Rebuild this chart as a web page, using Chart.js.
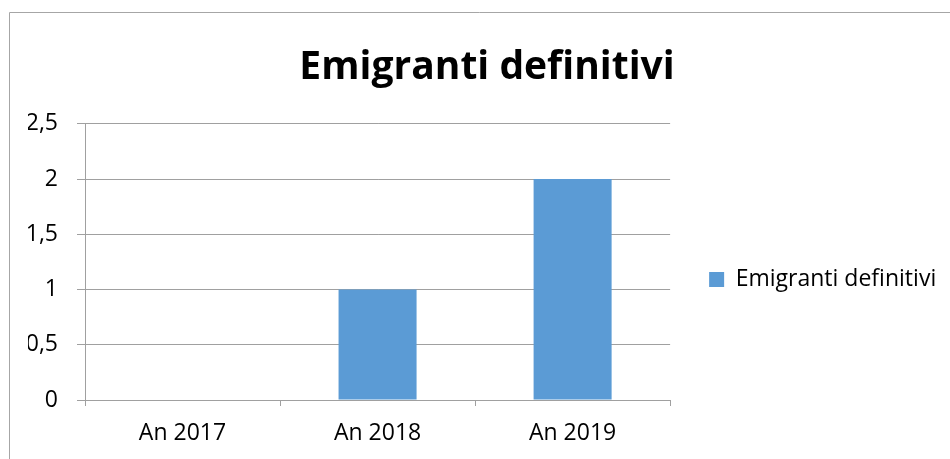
<!DOCTYPE html>
<html>
<head>
<meta charset="utf-8">
<script src="https://cdn.jsdelivr.net/npm/chart.js@4"></script>
<style>
  html, body { margin: 0; padding: 0; background: #ffffff; }
  #wrap { width: 950px; height: 459px; position: relative; }
</style>
</head>
<body>
<div id="wrap"><canvas id="chart" width="950" height="459"></canvas></div>
<script>
// Chart data
const categories = ['An 2017', 'An 2018', 'An 2019'];
const seriesName = 'Emigranti definitivi';
const seriesValues = [0, 1, 2];
const yMin = 0;
const yMax = 2.5;
const yStep = 0.5;

const FONT = "'Open Sans', 'Noto Sans', sans-serif";
const GRID = '#a0a0a0';

// Thin grey frame along the top and left edges; also keeps "fi" unligated
const framePlugin = {
  id: 'frame',
  beforeDraw(chart) {
    const ctx = chart.ctx;
    ctx.letterSpacing = '0.01px';
    ctx.save();
    ctx.strokeStyle = '#a6a6a6';
    ctx.lineWidth = 1;
    ctx.beginPath();
    ctx.moveTo(9.5, chart.height);
    ctx.lineTo(9.5, 12.5);
    ctx.lineTo(chart.width, 12.5);
    ctx.stroke();
    ctx.restore();
  }
};

// Moves the right-hand legend down so it sits level with the middle of the plot
const legendShift = {
  id: 'legendShift',
  afterLayout(chart, args, opts) {
    const lg = chart.legend;
    if (!lg) return;
    lg.top += opts.dy;
    lg.bottom += opts.dy;
  }
};

new Chart(document.getElementById('chart'), {
  type: 'bar',
  data: {
    labels: categories,
    datasets: [{
      label: seriesName,
      data: seriesValues,
      backgroundColor: '#5b9bd5',
      borderWidth: 0,
      categoryPercentage: 1.0,
      barPercentage: 0.4
    }]
  },
  options: {
    responsive: false,
    animation: false,
    devicePixelRatio: 1,
    layout: { padding: { left: 28, right: 4, top: 44, bottom: 0 } },
    plugins: {
      title: {
        display: true,
        text: seriesName,
        color: '#000000',
        font: { family: FONT, size: 39, weight: 'bold' },
        padding: { top: 0, bottom: 33 }
      },
      legend: {
        position: 'right',
        maxWidth: 281,
        labels: {
          boxWidth: 15,
          boxHeight: 15,
          padding: 39,
          color: '#000000',
          font: { family: FONT, size: 23 }
        }
      },
      legendShift: { dy: 28 },
      tooltip: { enabled: false }
    },
    scales: {
      x: {
        grid: { offset: true, drawOnChartArea: false, drawTicks: true, tickLength: 6, color: GRID },
        border: { display: true, color: GRID },
        ticks: { color: '#000000', font: { family: FONT, size: 23 }, padding: 14 },
        afterFit(scale) { scale.height = 59; }
      },
      y: {
        min: yMin,
        max: yMax,
        grid: { color: GRID, tickLength: 8 },
        border: { display: true, color: GRID },
        ticks: {
          stepSize: yStep,
          color: '#000000',
          font: { family: FONT, size: 23 },
          padding: 19,
          callback: (v) => String(v).replace('.', ',')
        },
        afterFit(scale) { scale.width = 57; }
      }
    }
  },
  plugins: [framePlugin, legendShift]
});
</script>
</body>
</html>
